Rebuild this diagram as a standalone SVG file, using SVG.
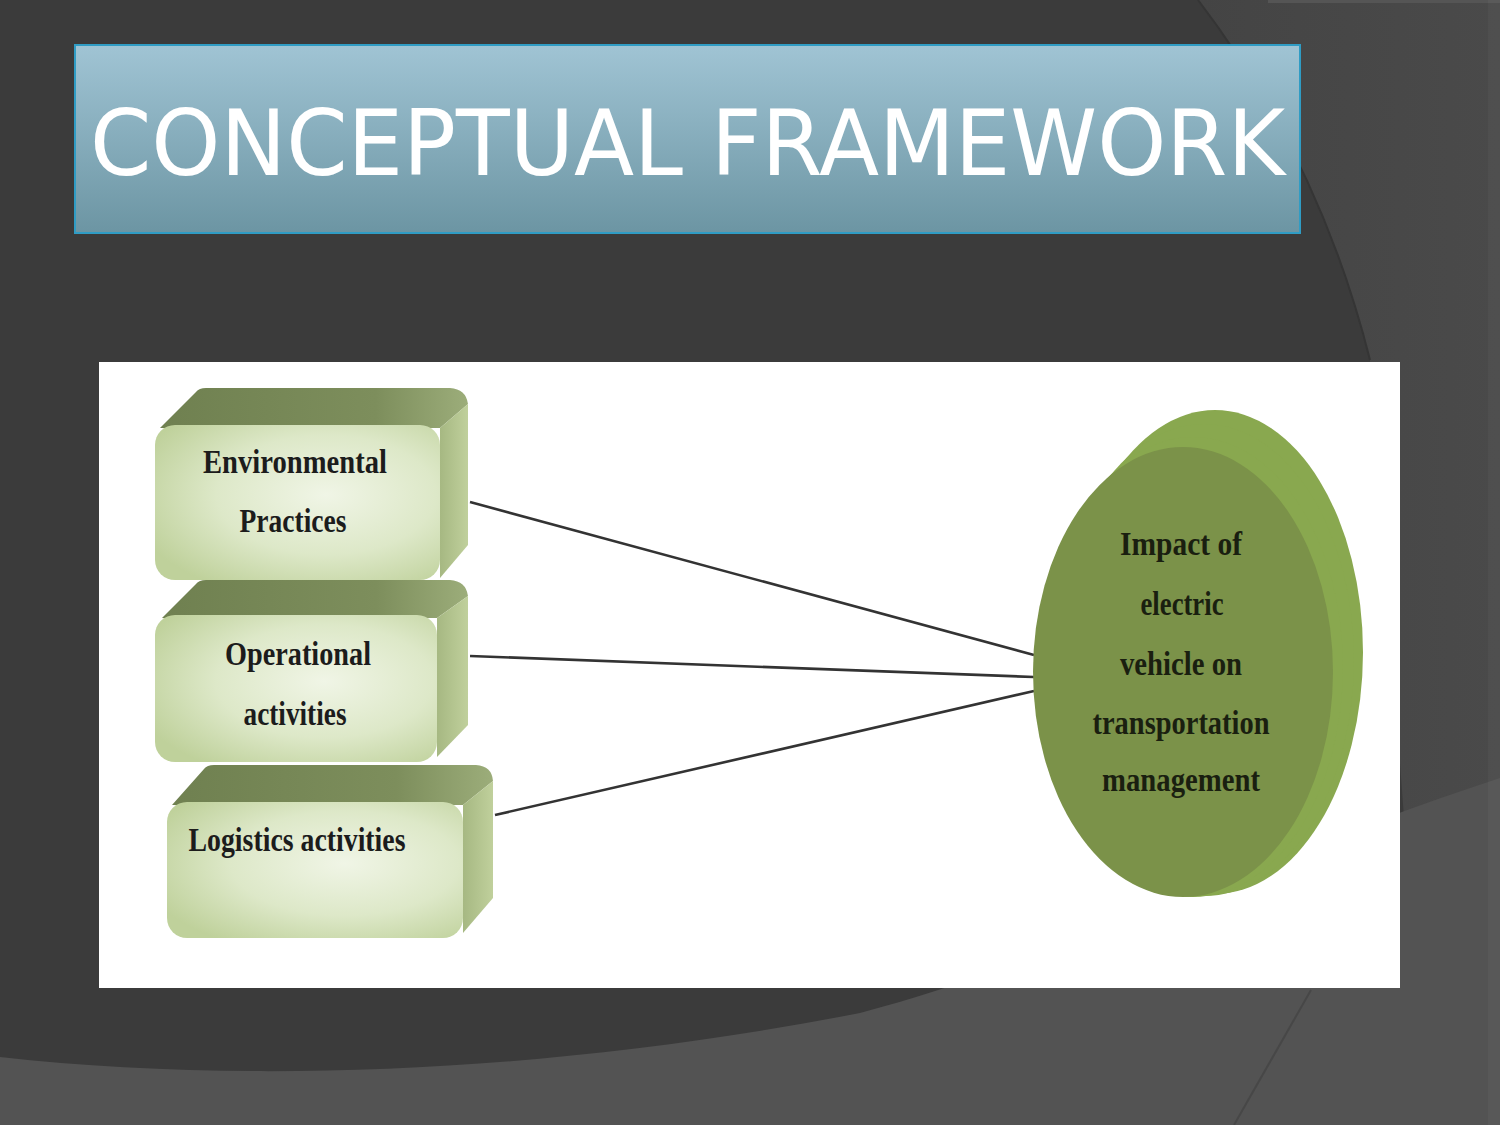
<svg xmlns="http://www.w3.org/2000/svg" width="1500" height="1125" viewBox="0 0 1500 1125">
<defs>
<linearGradient id="titleGrad" x1="0" y1="0" x2="0" y2="1">
<stop offset="0" stop-color="#a0c4d4"/>
<stop offset="1" stop-color="#6c95a3"/>
</linearGradient>
<radialGradient id="frontGrad" cx="0.6" cy="0.45" r="0.7">
<stop offset="0" stop-color="#f0f5e6"/>
<stop offset="0.55" stop-color="#dde8c8"/>
<stop offset="1" stop-color="#bfd19b"/>
</radialGradient>
<linearGradient id="topGrad" x1="0" y1="0" x2="1" y2="0">
<stop offset="0" stop-color="#6f8050"/>
<stop offset="0.7" stop-color="#7d8e5c"/>
<stop offset="1" stop-color="#9cad7a"/>
</linearGradient>
<linearGradient id="sideGrad" x1="0" y1="0" x2="1" y2="0">
<stop offset="0" stop-color="#a6b882"/>
<stop offset="1" stop-color="#c0d09c"/>
</linearGradient>
<linearGradient id="bgRight" x1="0" y1="0" x2="1" y2="0">
<stop offset="0" stop-color="#444444"/>
<stop offset="1" stop-color="#4a4a4a"/>
</linearGradient>
<style>
.box-label{font-family:"Liberation Serif","Times New Roman",serif;font-weight:bold;font-size:34px;fill:#1c1c1c;text-anchor:middle}
.oval-label{font-family:"Liberation Serif","Times New Roman",serif;font-weight:bold;font-size:34px;fill:#1a1f10;text-anchor:middle}
.conn{stroke:#333333;stroke-width:2.6;fill:none}
.front{fill:url(#frontGrad)}
.top{fill:url(#topGrad)}
.side{fill:url(#sideGrad)}
</style>
</defs>

<!-- background -->
<rect x="0" y="0" width="1500" height="1125" fill="#3b3b3b"/>
<path d="M1198,0 Q1320,160 1370,360 L1405,830 L1500,800 L1500,0 Z" fill="url(#bgRight)"/>
<path d="M1198,0 Q1320,160 1370,360" fill="none" stroke="#353535" stroke-width="2"/>
<rect x="1268" y="0" width="232" height="3" fill="#555555"/>
<path d="M0,1057 C250,1085 560,1072 860,1013 C1060,960 1250,860 1500,778 L1500,1125 L0,1125 Z" fill="#535353"/>
<path d="M1234,1125 L1311,990" stroke="#474747" stroke-width="2" fill="none"/>
<rect x="1488" y="0" width="12" height="1125" fill="#ffffff" opacity="0.03"/>

<!-- title -->
<g id="title">
<rect x="75" y="45" width="1225" height="188" fill="url(#titleGrad)" stroke="#2f9cc4" stroke-width="2"/>
<text x="90" y="175" font-family="DejaVu Sans, Verdana, sans-serif" font-size="90" fill="#ffffff" textLength="1195" lengthAdjust="spacingAndGlyphs">CONCEPTUAL FRAMEWORK</text>
</g>

<!-- white panel -->
<rect x="99" y="362" width="1301" height="626" fill="#ffffff"/>

<!-- connectors -->
<g id="connectors">
<line class="conn" x1="470" y1="502" x2="1034" y2="655"/>
<line class="conn" x1="470" y1="656" x2="1034" y2="677"/>
<line class="conn" x1="495" y1="815" x2="1034" y2="691"/>
</g>

<!-- node 1 -->
<g id="node-environmental">
<path class="top" d="M160,428 L196,392 Q199,388 206,388 L450,388 Q466,389 468,404 L440,428 Z"/>
<path class="side" d="M440,428 L468,404 L468,545 L440,578 Z"/>
<rect class="front" x="155" y="425" width="285" height="155" rx="20" ry="20"/>
<text class="box-label" x="295" y="473" textLength="184" lengthAdjust="spacingAndGlyphs">Environmental</text>
<text class="box-label" x="293" y="532" textLength="107" lengthAdjust="spacingAndGlyphs">Practices</text>
</g>

<!-- node 2 -->
<g id="node-operational">
<path class="top" d="M162,618 L196,584 Q199,580 206,580 L450,580 Q466,581 468,596 L437,618 Z"/>
<path class="side" d="M437,618 L468,596 L468,725 L437,757 Z"/>
<rect class="front" x="155" y="615" width="282" height="147" rx="20" ry="20"/>
<text class="box-label" x="298" y="665" textLength="146" lengthAdjust="spacingAndGlyphs">Operational</text>
<text class="box-label" x="295" y="725" textLength="103" lengthAdjust="spacingAndGlyphs">activities</text>
</g>

<!-- node 3 -->
<g id="node-logistics">
<path class="top" d="M172,805 L204,769 Q207,765 214,765 L476,765 Q492,766 493,781 L463,805 Z"/>
<path class="side" d="M463,805 L493,781 L493,898 L463,933 Z"/>
<rect class="front" x="167" y="802" width="296" height="136" rx="20" ry="20"/>
<text class="box-label" x="297" y="851" textLength="217" lengthAdjust="spacingAndGlyphs">Logistics activities</text>
</g>

<!-- outcome oval -->
<g id="node-impact">
<ellipse cx="1215" cy="652" rx="148" ry="242" fill="#89a84f"/>
<ellipse cx="1204" cy="660" rx="150" ry="236" fill="#89a84f"/>
<ellipse cx="1193" cy="667" rx="150" ry="230" fill="#89a84f"/>
<ellipse cx="1183" cy="672" rx="150" ry="225" fill="#7b9249"/>
<text class="oval-label" x="1181" y="555" textLength="122" lengthAdjust="spacingAndGlyphs">Impact of</text>
<text class="oval-label" x="1182" y="615" textLength="83" lengthAdjust="spacingAndGlyphs">electric</text>
<text class="oval-label" x="1181" y="675" textLength="122" lengthAdjust="spacingAndGlyphs">vehicle on</text>
<text class="oval-label" x="1181" y="734" textLength="177" lengthAdjust="spacingAndGlyphs">transportation</text>
<text class="oval-label" x="1181" y="791" textLength="158" lengthAdjust="spacingAndGlyphs">management</text>
</g>
</svg>
